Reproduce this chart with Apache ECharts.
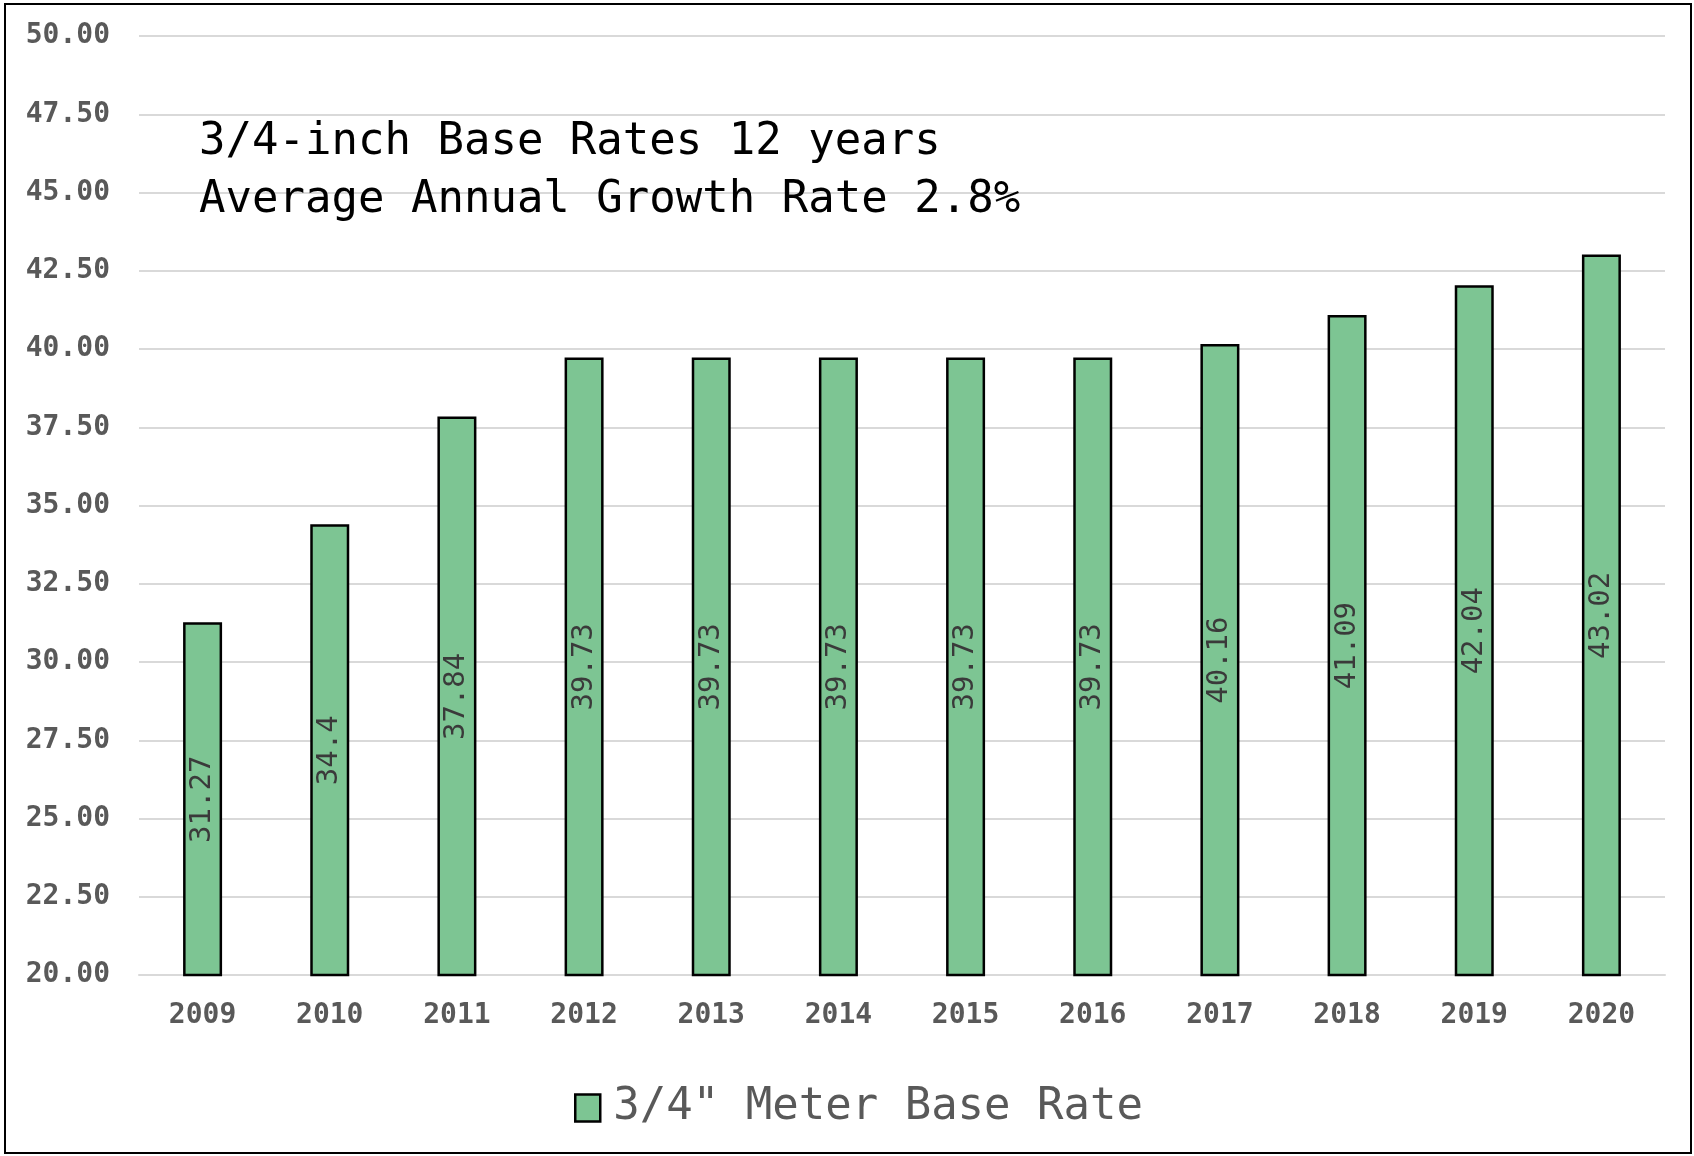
<!DOCTYPE html>
<html>
<head>
<meta charset="utf-8">
<title>3/4-inch Base Rates</title>
<script src="https://cdn.jsdelivr.net/npm/echarts@6/dist/echarts.min.js"></script>
<style>
  html, body { margin: 0; padding: 0; background: #fff; }
  #chart { width: 1694px; height: 1156px; }
</style>
</head>
<body>
<div id="chart"></div>
<script>
const years = ['2009', '2010', '2011', '2012', '2013', '2014', '2015', '2016', '2017', '2018', '2019', '2020'];
const baseRates = [31.27, 34.4, 37.84, 39.73, 39.73, 39.73, 39.73, 39.73, 40.16, 41.09, 42.04, 43.02];
const seriesName = '3/4" Meter Base Rate';
const titleLines = ['3/4-inch Base Rates 12 years', 'Average Annual Growth Rate 2.8%'];

const mono = '"DejaVu Sans Mono", "Liberation Mono", monospace';

const chart = echarts.init(document.getElementById('chart'));

chart.setOption({
    backgroundColor: '#fff',
    animation: false,
    title: {
        text: titleLines.join('\n'),
        left: 194,
        top: 109,
        textStyle: {
            fontFamily: mono,
            fontSize: 44,
            fontWeight: 'normal',
            color: '#000',
            lineHeight: 58
        }
    },
    legend: {
        left: 569,
        top: 1081,
        icon: 'rect',
        itemWidth: 25,
        itemHeight: 27,
        itemStyle: { borderColor: '#000', borderWidth: 2.5 },
        textStyle: {
            fontFamily: mono,
            fontSize: 44,
            color: '#595959',
            padding: [0, 0, 0, 8]
        },
        data: [seriesName]
    },
    grid: { left: 139, right: 29, top: 36, bottom: 181 },
    xAxis: {
        type: 'category',
        data: years,
        axisLine: { lineStyle: { color: '#d9d9d9', width: 2 } },
        axisTick: { show: false },
        axisLabel: {
            margin: 27,
            fontFamily: mono,
            fontSize: 28,
            fontWeight: 'bold',
            color: '#595959'
        }
    },
    yAxis: {
        type: 'value',
        min: 20,
        max: 50,
        interval: 2.5,
        axisLine: { show: false },
        axisTick: { show: false },
        splitLine: { lineStyle: { color: '#d9d9d9', width: 2 } },
        axisLabel: {
            margin: 29,
            fontFamily: mono,
            fontSize: 28,
            fontWeight: 'bold',
            color: '#595959',
            formatter: v => v.toFixed(2)
        }
    },
    series: [{
        name: seriesName,
        type: 'bar',
        data: baseRates,
        barWidth: 39,
        itemStyle: { color: '#7dc593', borderColor: '#000', borderWidth: 2.5 },
        label: {
            show: true,
            position: 'inside',
            rotate: 90,
            fontFamily: mono,
            fontSize: 29,
            color: '#3a3a3a'
        }
    }],
    graphic: [{
        type: 'rect',
        shape: { x: 5, y: 4, width: 1686, height: 1149 },
        style: { fill: 'none', stroke: '#000', lineWidth: 2 },
        silent: true
    }]
});
</script>
</body>
</html>
